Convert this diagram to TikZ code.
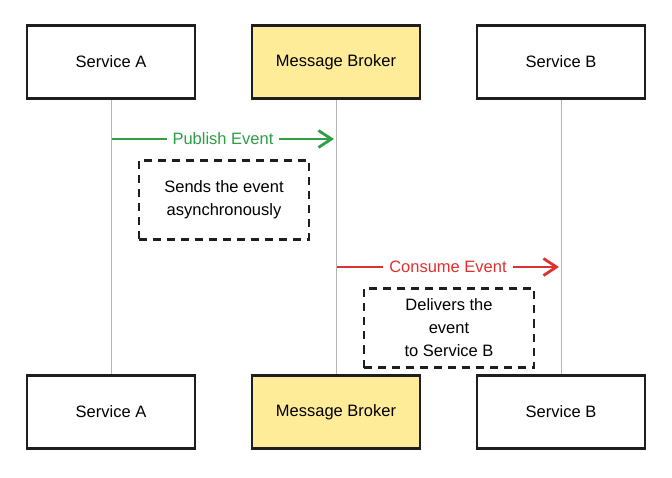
\documentclass[tikz,border=0pt]{standalone}
\usepackage{fontspec}
\setmainfont{Liberation Sans}
\usepackage{tikz}
\usetikzlibrary{arrows.meta}

\definecolor{inkdark}{HTML}{1E1E1E}
\definecolor{brokerfill}{HTML}{FFEC99}
\definecolor{publishgreen}{HTML}{2F9E44}
\definecolor{consumered}{HTML}{E03131}
\definecolor{lifegray}{HTML}{B4B4B4}

\tikzset{
    actor/.style={draw=inkdark, line width=2.2pt, fill=white, minimum width=168pt,
        minimum height=73pt, font=\fontsize{16.5}{19}\selectfont},
    brokerbox/.style={actor, fill=brokerfill},
    notebox/.style={draw=inkdark, line width=2.2pt, dash pattern=on 8pt off 6pt,
        minimum width=170pt, minimum height=79pt, align=center,
        font=\fontsize{16.5}{23}\selectfont},
    lifeline/.style={draw=lifegray, line width=1pt},
    msgarrow/.style={line width=2.8pt, -{Straight Barb[length=13pt,width=17pt,line width=2.8pt]}},
    msglabel/.style={fill=white, inner sep=6pt, font=\fontsize{16.5}{19}\selectfont}
}

\begin{document}
\begin{tikzpicture}[x=1pt, y=-1pt]
        \useasboundingbox (0,0) rectangle (672,478);

        \node[actor] (svcAtop) at (111,62) {Service A};
        \node[brokerbox] (brokertop) at (336,62) {Message Broker};
        \node[actor] (svcBtop) at (561,62) {Service B};

        \node[actor] (svcAbot) at (111,412) {Service A};
        \node[brokerbox] (brokerbot) at (336,412) {Message Broker};
        \node[actor] (svcBbot) at (561,412) {Service B};

        \draw[lifeline] (svcAtop) -- (svcAbot);
        \draw[lifeline] (brokertop) -- (brokerbot);
        \draw[lifeline] (svcBtop) -- (svcBbot);

        \coordinate (pubfrom) at (112,139);
        \coordinate (pubto) at (334,139);
        \draw[msgarrow, publishgreen] (pubfrom) -- node[msglabel] {Publish Event} (pubto);

        \node[notebox] (sendnote) at (224,200) {Sends the event\\asynchronously};

        \coordinate (confrom) at (337,267);
        \coordinate (conto) at (559,267);
        \draw[msgarrow, consumered] (confrom) -- node[msglabel] {Consume Event} (conto);

        \node[notebox] (delivernote) at (449,328) {Delivers the\\event\\to Service B};
    \end{tikzpicture}
\end{document}
